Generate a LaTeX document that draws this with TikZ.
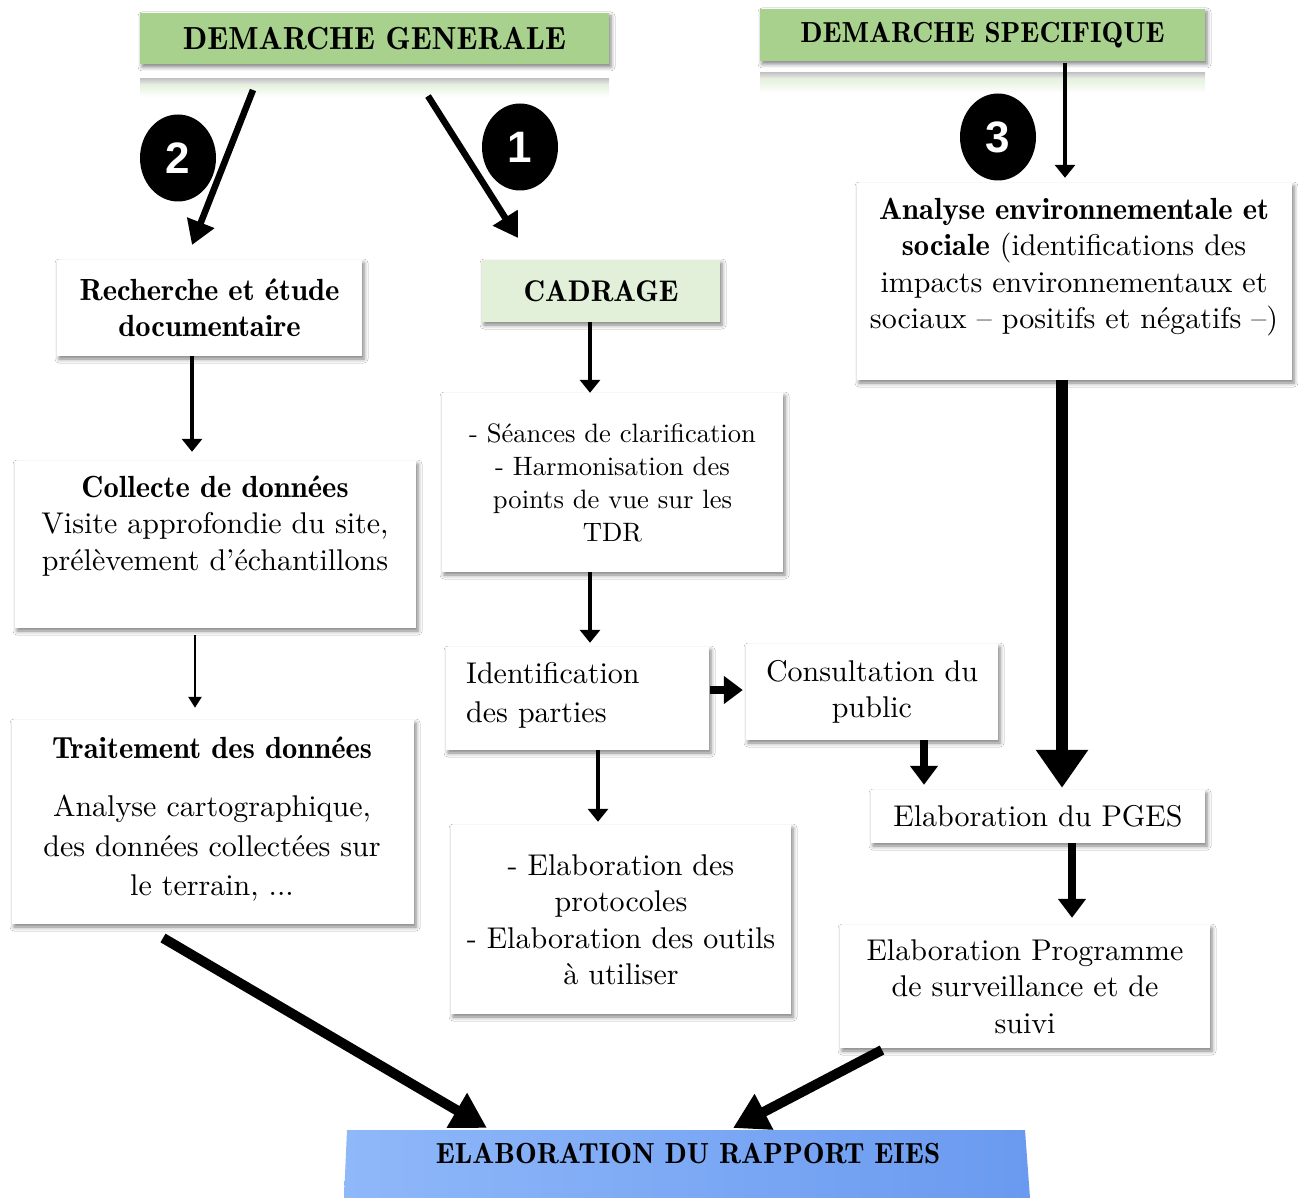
\documentclass[tikz,border=0pt]{standalone}
\usepackage{fontspec}
\setmainfont{lmroman10-regular.otf}[BoldFont=lmromandemi10-regular.otf,
  ItalicFont=lmroman10-italic.otf,BoldItalicFont=lmromandemi10-oblique.otf]
\newfontfamily\numfont{Liberation Sans}
\usetikzlibrary{arrows.meta,shapes.geometric,shadows.blur,calc}
\definecolor{hdrgreen}{RGB}{169,209,142}
\definecolor{lightgreen}{RGB}{226,240,217}
\definecolor{blueL}{RGB}{143,184,249}
\definecolor{blueR}{RGB}{106,154,240}
\newcommand\bodyfont{\fontsize{30}{36.5}\selectfont}
\newcommand\boldtxt{\fontsize{30.6}{36.5}\selectfont\bfseries}

\begin{document}
\begin{tikzpicture}[x=1pt,y=-1pt,
  softshadow/.style={blur shadow={shadow xshift=2pt,shadow yshift=-3pt,
      shadow blur radius=4pt,shadow opacity=50}},
  box/.style={softshadow,fill=white,inner sep=0pt,align=center,font=\bodyfont},
  hdr/.style={softshadow,fill=hdrgreen,inner sep=0pt,align=center},
  txt/.style={inner sep=0pt,align=center,font=\bodyfont},
  badge/.style={ellipse,fill=black,inner sep=0pt,minimum width=76pt,
      minimum height=87pt,text=white,font=\numfont\bfseries\fontsize{44}{44}\selectfont},
  thinarr/.style={line width=2.5pt,-{Triangle[length=11pt,width=13pt]}},
  medarr/.style={line width=4.5pt,-{Triangle[length=13pt,width=20pt]}},
  boldarr/.style={line width=7.5pt,-{Triangle[length=19pt,width=27pt]}},
  diagarr/.style={line width=6.5pt,-{Triangle[length=24pt,width=28pt]}},
  bigarr/.style={line width=10pt,-{Triangle[length=35pt,width=38pt]}},
  hugearr/.style={line width=12pt,-{Triangle[length=38pt,width=50pt]}}
]
\useasboundingbox (0,0) rectangle (1298,1198);
\fill[white] (0,0) rectangle (1298,1198);

% headers with their faded reflections
\shade[top color=black!22,bottom color=black!6] (140,79) rectangle (609,85);
\shade[top color=hdrgreen!30,bottom color=white] (140,85) rectangle (609,97);
\shade[top color=black!22,bottom color=black!6] (760,73) rectangle (1205,79);
\shade[top color=hdrgreen!30,bottom color=white] (760,79) rectangle (1205,93);

\node[hdr,minimum width=469pt,minimum height=51pt,font=\fontsize{31.9}{33}\selectfont\bfseries]
  (gen) at (374.5,38.5) {DEMARCHE GENERALE};
\node[hdr,minimum width=445pt,minimum height=52pt,font=\fontsize{29}{31}\selectfont\bfseries]
  (spec) at (982.5,35) {DEMARCHE SPECIFIQUE};

% numbered badges
\node[badge] (n2) at (178,158) {2};
\node[badge] (n1) at (520,147) {1};
\node[badge] (n3) at (998,137) {3};

% left column
\node[box,minimum width=305pt,minimum height=96pt,font=\boldtxt] (rech) at (209.5,308)
  {Recherche et étude\\documentaire};
\node[box,minimum width=401pt,minimum height=167pt] (coll) at (215.5,544.5) {};
\node[txt] (collt) at (215,526)
  {{\boldtxt Collecte de données}\\Visite approfondie du site,\\prélèvement d’échantillons};
\node[box,minimum width=402pt,minimum height=204pt] (trait) at (213,822) {};
\node[txt,font=\fontsize{30}{39.5}\selectfont] (traitt) at (212,819)
  {{\boldtxt Traitement des données}\\[19pt]Analyse cartographique,\\des données collectées sur\\le terrain, ...};

% middle column
\node[box,fill=lightgreen,minimum width=238pt,minimum height=62pt,
  font=\fontsize{29.9}{31}\selectfont\bfseries] (cad) at (601,291) {CADRAGE};
\node[box,minimum width=341pt,minimum height=179pt,font=\fontsize{26.6}{33}\selectfont]
  (sean) at (612.5,482.5)
  {- Séances de clarification\\- Harmonisation des\\points de vue sur les\\TDR};
\node[box,minimum width=263pt,minimum height=103pt] (ident) at (577.5,698.5) {};
\node[txt,anchor=west,align=left,font=\fontsize{30}{39}\selectfont] (identt) at (466,695)
  {Identification\\des parties};
\node[box,minimum width=340pt,minimum height=189pt] (proto) at (621,919.5)
  {- Elaboration des\\protocoles\\- Elaboration des outils\\à utiliser};

% right column
\node[box,minimum width=435pt,minimum height=197pt] (anal) at (1074.5,281.5) {};
\node[txt] (analt) at (1074,267)
  {{\boldtxt Analyse environnementale et}\\{\boldtxt sociale} (identifications des\\impacts environnementaux et\\sociaux – positifs et négatifs –)};
\node[box,minimum width=252pt,minimum height=96pt] (cons) at (872,692)
  {Consultation du\\public};
\node[box,minimum width=334pt,minimum height=53pt] (pges) at (1038,816.5)
  {Elaboration du PGES};
\node[box,minimum width=370pt,minimum height=123pt] (prog) at (1025,986.5)
  {Elaboration Programme\\de surveillance et de\\suivi};

% final report banner
\shade[left color=blueL,right color=blueR]
  (347,1130) -- (1025,1130) -- (1030,1198) -- (344,1198) -- cycle;
\node[inner sep=0pt,font=\fontsize{29.1}{31}\selectfont\bfseries] (rap) at (688,1153)
  {ELABORATION DU RAPPORT EIES};

% connector end points
\coordinate (g2) at (253,90);
\coordinate (e2) at (192,245);
\coordinate (g1) at (428,96);
\coordinate (e1) at (518,238);
\coordinate (t2) at (163,938);
\coordinate (r1) at (487,1128);
\coordinate (p2) at (882,1050);
\coordinate (r2) at (733,1128);
\coordinate (c1) at (192,0);
\coordinate (c2) at (195,0);
\coordinate (c3) at (590,0);
\coordinate (c4) at (598,0);
\coordinate (c5) at (924,0);
\coordinate (c6) at (1062,0);
\coordinate (c7) at (1072,0);
\coordinate (c8) at (1065,0);
\coordinate (h1) at (0,690);

% connectors
\draw[diagarr] (g2) -- (e2);
\draw[diagarr] (g1) -- (e1);
\draw[medarr,shorten >=9pt] (rech.south -| c1) -- (coll.north -| c1);
\draw[thinarr,shorten <=7pt,shorten >=12pt] (coll.south -| c2) -- (trait.north -| c2);
\draw[medarr] (cad.south -| c3) -- (sean.north -| c3);
\draw[medarr,shorten >=4pt] (sean.south -| c3) -- (ident.north -| c3);
\draw[medarr,shorten >=3pt] (ident.south -| c4) -- (proto.north -| c4);
\draw[boldarr,shorten <=1pt,shorten >=3pt] (ident.east |- h1) -- (cons.west |- h1);
\draw[boldarr,shorten >=5pt] (cons.south -| c5) -- (pges.north -| c5);
\draw[medarr,shorten <=2pt,shorten >=5pt] (spec.south -| c8) -- (anal.north -| c8);
\draw[hugearr,shorten >=2pt] (anal.south -| c6) -- (pges.north -| c6);
\draw[boldarr,shorten >=7pt] (pges.south -| c7) -- (prog.north -| c7);
\draw[bigarr] (t2) -- (r1);
\draw[bigarr] (p2) -- (r2);
\end{tikzpicture}
\end{document}
